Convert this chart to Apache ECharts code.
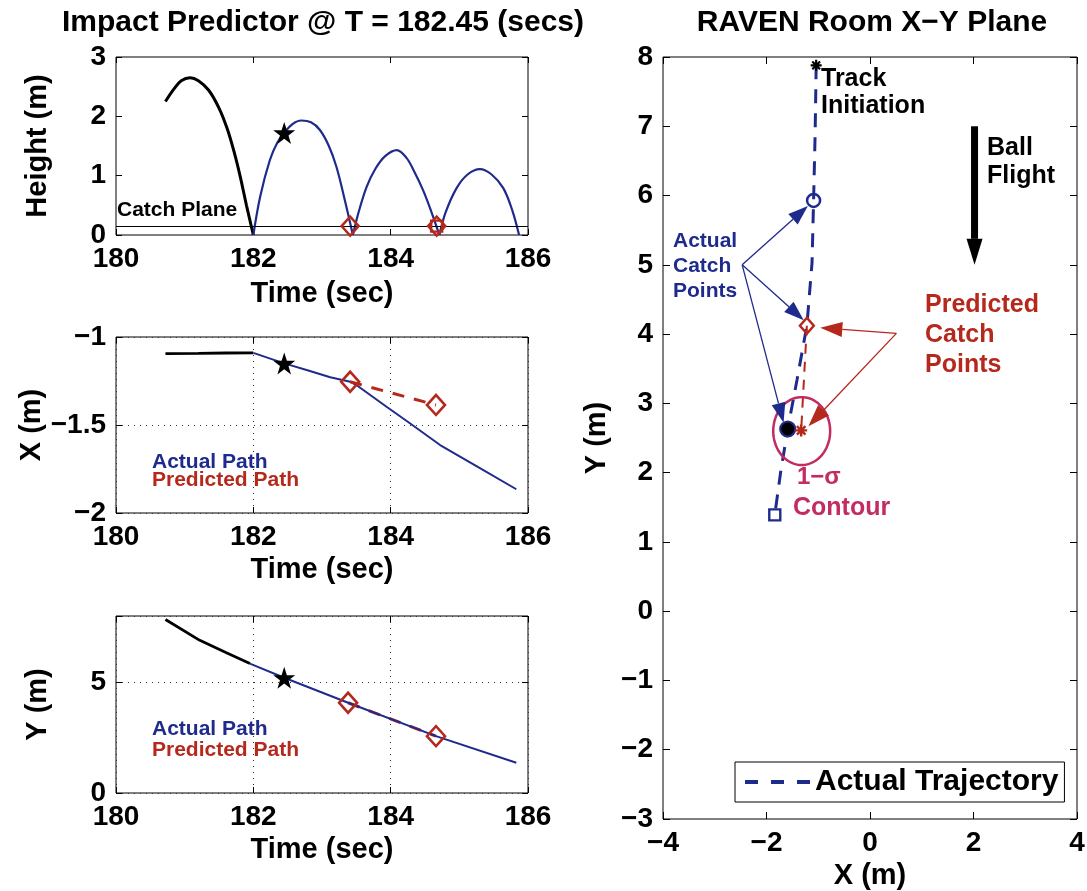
<!DOCTYPE html>
<html>
<head>
<meta charset="utf-8">
<script src="https://cdn.jsdelivr.net/npm/echarts@6/dist/echarts.min.js"></script>
<style>
  html, body { margin: 0; padding: 0; background: #fff; }
  #chart { width: 1087px; height: 891px; }
</style>
</head>
<body>
<div id="chart"></div>
<script>
// ---- Height (m) versus time (s) ----
const heightFlown = [[180.72, 2.25], [180.85, 2.47], [180.95, 2.6], [181.08, 2.65], [181.2, 2.6], [181.35, 2.44],
  [181.5, 2.14], [181.62, 1.79], [181.72, 1.4], [181.81, 0.98], [181.9, 0.5], [182.0, 0]];
const heightBounce1 = [[182.0, 0], [182.1, 0.65], [182.24, 1.26], [182.35, 1.56], [182.45, 1.72], [182.57, 1.87],
  [182.7, 1.93], [182.84, 1.9], [182.97, 1.77], [183.1, 1.5], [183.21, 1.15], [183.33, 0.6], [183.45, 0]];
const heightBounce2 = [[183.45, 0], [183.53, 0.37], [183.65, 0.81], [183.78, 1.12], [183.92, 1.33], [184.09, 1.43],
  [184.23, 1.3], [184.33, 1.1], [184.47, 0.76], [184.59, 0.4], [184.71, 0]];
const heightBounce3 = [[184.71, 0], [184.8, 0.38], [184.96, 0.79], [185.12, 1.02], [185.3, 1.11], [185.47, 1.02],
  [185.64, 0.79], [185.77, 0.42], [185.87, 0]];
const catchPlaneHeight = 0.15;
const heightNow = [[182.45, 1.72]];
const heightCatchPredicted = [[183.41, 0.15], [184.67, 0.15]];
const heightCatchLatest = [[184.67, 0.15]];

// ---- X position (m) versus time (s) ----
const xFlown = [[180.72, -1.095], [181.2, -1.093], [181.6, -1.091], [182.0, -1.09]];
const xActual = [[182.0, -1.09], [182.45, -1.15], [182.8, -1.19], [183.12, -1.229], [183.41, -1.254], [183.5, -1.273],
  [183.94, -1.396], [184.28, -1.49], [184.72, -1.614], [185.3, -1.745], [185.83, -1.865]];
const xNow = [[182.45, -1.15]];
const xPredicted = [[183.41, -1.254], [184.66, -1.386]];

// ---- Y position (m) versus time (s) ----
const yFlown = [[180.72, 7.84], [181.22, 6.9], [181.6, 6.35], [181.95, 5.85]];
const yActual = [[181.95, 5.85], [182.45, 5.21], [183.38, 4.08], [184.66, 2.57], [185.83, 1.37]];
const yNow = [[182.45, 5.21]];
const yPredicted = [[183.38, 4.08], [184.66, 2.57]];

// ---- Room X-Y plane (m) ----
const trajectory = [[-1.04, 7.88], [-1.06, 6.9], [-1.09, 5.93], [-1.12, 5.03], [-1.22, 4.12], [-1.41, 3.34],
  [-1.59, 2.63], [-1.73, 1.99], [-1.84, 1.39]];
const predictedTrack = [[-1.22, 4.12], [-1.33, 2.61]];
const trackStart = [[-1.04, 7.88]];
const actualCatch = [[-1.09, 5.93]];
const predictedCatch = [[-1.22, 4.12]];
const ballNow = [[-1.59, 2.63]];
const ballPredicted = [[-1.33, 2.61]];
const trackEnd = [[-1.84, 1.39]];
const sigmaContour = [[-1.32, 2.6, 0.55, 0.49]];   // centre x, centre y, semi-axis x, semi-axis y
const actualCallout = [-2.47, 5.0];
const actualCalloutTips = [[-1.2, 5.85], [-1.28, 4.2], [-1.67, 2.72]];
const predictedCallout = [0.51, 4.01];
const predictedCalloutTips = [[-0.96, 4.09], [-1.19, 2.67]];
const ballFlight = [[2.02, 7.0, 2.02, 5.0]];

// ---- tick values ----
const timeTicks = { min: 180, max: 186, interval: 2 };
const heightTicks = { min: 0, max: 3, interval: 1 };
const xTicks = { min: -2, max: -1, interval: 0.5 };
const yTicks = { min: 0, max: 8, interval: 5 };
const roomXTicks = { min: -4, max: 4, interval: 2 };
const roomYTicks = { min: -3, max: 8, interval: 1 };

const FONT = '"Liberation Sans", Arial, Helvetica, sans-serif';
const BLUE = '#1f2b8c';
const RED = '#b5281c';
const MAGENTA = '#c22c62';
const STAR = 'path://M50,0 L61.8,35.3 L98.9,35.3 L69,57.1 L80.3,92.4 L50,70.6 L19.7,92.4 L31,57.1 L1.1,35.3 L38.2,35.3 Z';
const DIAMOND = 'path://M50,0 L100,50 L50,100 L0,50 Z';
const ASTERISK = 'path://M0,8 L20,8 L20,12 L0,12 Z M8,0 L12,0 L12,20 L8,20 Z ' +
  'M1.5,4.3 L4.3,1.5 L18.5,15.7 L15.7,18.5 Z M15.7,1.5 L18.5,4.3 L4.3,18.5 L1.5,15.7 Z';

const fmtMinus = v => (v < 0 ? '\u2212' + String(Math.abs(v)) : String(v));
const labelStyle = { fontSize: 28, fontWeight: 'bold', color: '#000', fontFamily: FONT };
const nameStyle = { fontSize: 29, fontWeight: 'bold', color: '#000', fontFamily: FONT };

const grids = [
  { left: 116, top: 57, width: 412, height: 178 },
  { left: 116, top: 337, width: 412, height: 176 },
  { left: 116, top: 616, width: 412, height: 177 },
  { left: 663, top: 57, width: 414, height: 762 }
].map(g => Object.assign(g, { show: true, borderColor: '#000', borderWidth: 1, backgroundColor: '#fff', outerBoundsMode: 'none' }));

function mainAxis(gridIndex, ticks, extra) {
  return Object.assign({
    gridIndex, type: 'value', min: ticks.min, max: ticks.max, interval: ticks.interval,
    axisLine: { show: false, onZero: false },
    axisTick: { inside: true, length: 6, lineStyle: { color: '#000', width: 1 } },
    axisLabel: Object.assign({ margin: 10, formatter: fmtMinus }, labelStyle),
    splitLine: { show: false },
    nameLocation: 'middle', nameTextStyle: nameStyle
  }, extra);
}
function mirrorAxis(gridIndex, ticks, position, len) {
  return {
    gridIndex, type: 'value', position, min: ticks.min, max: ticks.max, interval: ticks.interval,
    axisLine: { show: false, onZero: false },
    axisTick: { inside: true, length: len || 6, lineStyle: { color: '#000', width: 1 } },
    axisLabel: { show: false }, splitLine: { show: false }
  };
}
const dotted = { show: true, lineStyle: { color: '#333', width: 1, type: [1, 5] } };

// axis list per panel: [main, mirror] so panel p uses axis index 2 * p
const xAxis = [
  mainAxis(0, timeTicks, { name: 'Time (sec)', nameGap: 44 }),
  mirrorAxis(0, timeTicks, 'top'),
  mainAxis(1, timeTicks, { name: 'Time (sec)', nameGap: 42, splitLine: dotted }),
  mirrorAxis(1, timeTicks, 'top'),
  mainAxis(2, timeTicks, { name: 'Time (sec)', nameGap: 42, splitLine: dotted }),
  mirrorAxis(2, timeTicks, 'top'),
  mainAxis(3, roomXTicks, { name: 'X (m)', nameGap: 42, axisTick: { inside: true, length: 7, lineStyle: { color: '#000' } } }),
  mirrorAxis(3, roomXTicks, 'top', 7)
];
const yAxis = [
  mainAxis(0, heightTicks, { name: 'Height (m)', nameGap: 64 }),
  mirrorAxis(0, heightTicks, 'right'),
  mainAxis(1, xTicks, { name: 'X (m)', nameGap: 64, splitLine: dotted }),
  mirrorAxis(1, xTicks, 'right'),
  mainAxis(2, yTicks, {
    name: 'Y (m)', nameGap: 64, splitLine: dotted,
    axisLabel: Object.assign({ margin: 10, formatter: v => (v % 5 === 0 ? fmtMinus(v) : '') }, labelStyle)
  }),
  mirrorAxis(2, yTicks, 'right'),
  mainAxis(3, roomYTicks, { name: 'Y (m)', nameGap: 52, axisTick: { inside: true, length: 7, lineStyle: { color: '#000' } } }),
  mirrorAxis(3, roomYTicks, 'right', 7)
];

function line(panel, data, color, width, extra) {
  return Object.assign({
    type: 'line', xAxisIndex: panel * 2, yAxisIndex: panel * 2, data, showSymbol: false, symbol: 'none',
    lineStyle: { color, width }, itemStyle: { color }, silent: true, animation: false, z: 3
  }, extra);
}
function marks(panel, data, symbol, size, style, extra) {
  return Object.assign({
    type: 'scatter', xAxisIndex: panel * 2, yAxisIndex: panel * 2, data, symbol, symbolSize: size,
    itemStyle: Object.assign({ opacity: 1 }, style), silent: true, animation: false, z: 6
  }, extra);
}
const hollow = (c, w) => ({ color: 'rgba(255,255,255,0)', borderColor: c, borderWidth: w || 2.2, opacity: 1 });

function arrowItem(headLen, headHalf, width, color) {
  return function (params, api) {
    const p0 = api.coord([api.value(0), api.value(1)]);
    const p1 = api.coord([api.value(2), api.value(3)]);
    const dx = p1[0] - p0[0], dy = p1[1] - p0[1];
    const len = Math.hypot(dx, dy) || 1;
    const ux = dx / len, uy = dy / len;
    const bx = p1[0] - ux * headLen, by = p1[1] - uy * headLen;
    return {
      type: 'group', children: [
        { type: 'line', shape: { x1: p0[0], y1: p0[1], x2: bx, y2: by }, style: { stroke: color, lineWidth: width } },
        { type: 'polygon', shape: { points: [[p1[0], p1[1]], [bx - uy * headHalf, by + ux * headHalf], [bx + uy * headHalf, by - ux * headHalf]] },
          style: { fill: color } }
      ]
    };
  };
}
function arrows(data, headLen, headHalf, width, color) {
  return {
    type: 'custom', xAxisIndex: 6, yAxisIndex: 6, data, encode: { x: [0, 2], y: [1, 3] },
    renderItem: arrowItem(headLen, headHalf, width, color), silent: true, animation: false, z: 5
  };
}

// ellipse outline traced around its centre in pixel space
function contourItem(params, api) {
  const c = api.coord([api.value(0), api.value(1)]);
  const s = api.size([api.value(2), api.value(3)]);
  const pts = [];
  for (let k = 0; k < 96; k++) {
    const a = (k / 96) * Math.PI * 2;
    pts.push([c[0] + s[0] * Math.cos(a), c[1] + s[1] * Math.sin(a)]);
  }
  return { type: 'polygon', shape: { points: pts }, style: { fill: 'rgba(0,0,0,0)', stroke: MAGENTA, lineWidth: 2.5 } };
}

const series = [
  // height plot
  line(0, heightFlown, '#000', 3, {
    smooth: 0.35,
    markLine: { silent: true, symbol: 'none', label: { show: false }, animation: false,
      lineStyle: { color: '#000', width: 1, type: 'solid' }, data: [{ yAxis: catchPlaneHeight }] }
  }),
  line(0, heightBounce1, BLUE, 2.2, { smooth: 0.35 }),
  line(0, heightBounce2, BLUE, 2.2, { smooth: 0.35 }),
  line(0, heightBounce3, BLUE, 2.2, { smooth: 0.35 }),
  marks(0, heightNow, STAR, 22, { color: '#000' }),
  marks(0, heightCatchPredicted, DIAMOND, [17, 19], hollow(RED, 2.6)),
  marks(0, heightCatchLatest, 'rect', 11, hollow(RED, 2.4)),

  // X plot
  line(1, xFlown, '#000', 2.8),
  line(1, xActual, BLUE, 2),
  line(1, xPredicted, RED, 3, { lineStyle: { color: RED, width: 3, type: [12, 10] } }),
  marks(1, xNow, STAR, 22, { color: '#000' }),
  marks(1, xPredicted, DIAMOND, [18, 20], hollow(RED, 2.6)),

  // Y plot
  line(2, yFlown, '#000', 2.8),
  line(2, yActual, BLUE, 2),
  line(2, yPredicted, RED, 3, { lineStyle: { color: RED, width: 3, type: [12, 10] }, z: 2 }),
  marks(2, yNow, STAR, 22, { color: '#000' }),
  marks(2, yPredicted, DIAMOND, [18, 20], hollow(RED, 2.6)),

  // room plane
  line(3, trajectory, BLUE, 3, { name: 'Actual Trajectory', lineStyle: { color: BLUE, width: 3, type: [14, 10] } }),
  line(3, predictedTrack, RED, 2, { lineStyle: { color: RED, width: 2, type: [10, 8] } }),
  {
    type: 'custom', xAxisIndex: 6, yAxisIndex: 6, data: sigmaContour, encode: { x: 0, y: 1 },
    renderItem: contourItem, silent: true, animation: false, z: 4
  },
  arrows(actualCalloutTips.map(t => actualCallout.concat(t)), 20, 7, 1.3, BLUE),
  arrows(predictedCalloutTips.map(t => predictedCallout.concat(t)), 22, 7.5, 1.3, RED),
  arrows(ballFlight, 26, 8, 7, '#000'),
  marks(3, trackStart, ASTERISK, 11, { color: '#000' }),
  marks(3, actualCatch, 'circle', 13, hollow(BLUE, 2.5)),
  marks(3, predictedCatch, DIAMOND, [14, 16], hollow(RED, 2.4)),
  marks(3, ballNow, 'circle', 15, { color: '#000', borderColor: BLUE, borderWidth: 2.2 }),
  marks(3, ballPredicted, ASTERISK, 12, { color: RED }),
  marks(3, trackEnd, 'rect', 11, hollow(BLUE, 2.4))
];

function txt(x, y, text, size, color, weight, align) {
  return {
    type: 'text', x, y, silent: true, z: 20,
    style: {
      text, fill: color, font: (weight || 'bold') + ' ' + size + 'px ' + FONT,
      align: align || 'left', textAlign: align || 'left', verticalAlign: 'middle', textVerticalAlign: 'middle'
    }
  };
}

const graphic = [
  txt(323, 23, 'Impact Predictor @ T = 182.45 (secs)', 30, '#000', 'bold', 'center'),
  txt(872, 23, 'RAVEN Room X\u2212Y Plane', 30, '#000', 'bold', 'center'),
  txt(117, 210, 'Catch Plane', 21, '#000'),
  txt(152, 462, 'Actual Path', 21, BLUE),
  txt(152, 480, 'Predicted Path', 21, RED),
  txt(152, 729, 'Actual Path', 21, BLUE),
  txt(152, 750, 'Predicted Path', 21, RED),
  txt(821, 79, 'Track', 25, '#000'),
  txt(821, 106, 'Initiation', 25, '#000'),
  txt(987, 148, 'Ball', 25, '#000'),
  txt(987, 176, 'Flight', 25, '#000'),
  txt(673, 241, 'Actual', 21, BLUE),
  txt(673, 266, 'Catch', 21, BLUE),
  txt(673, 291, 'Points', 21, BLUE),
  txt(925, 305, 'Predicted', 25, RED),
  txt(925, 335, 'Catch', 25, RED),
  txt(925, 365, 'Points', 25, RED),
  txt(797, 477, '1\u2212\u03c3', 24, MAGENTA),
  txt(793, 508, 'Contour', 25, MAGENTA)
];

const chart = echarts.init(document.getElementById('chart'), null, { renderer: 'canvas' });
chart.setOption({
  animation: false,
  backgroundColor: '#fff',
  textStyle: { fontFamily: FONT },
  grid: grids,
  xAxis, yAxis,
  legend: {
    data: ['Actual Trajectory'], left: 735, top: 762, selectedMode: false,
    backgroundColor: '#fff', borderColor: '#000', borderWidth: 1, borderRadius: 0,
    padding: [5, 6, 5, 10], itemWidth: 65, itemHeight: 4,
    icon: 'path://M0,0H13V4H0Z M26,0H39V4H26Z M52,0H65V4H52Z',
    textStyle: { fontSize: 30, fontWeight: 'bold', color: '#000', fontFamily: FONT }
  },
  series, graphic
});
</script>
</body>
</html>
